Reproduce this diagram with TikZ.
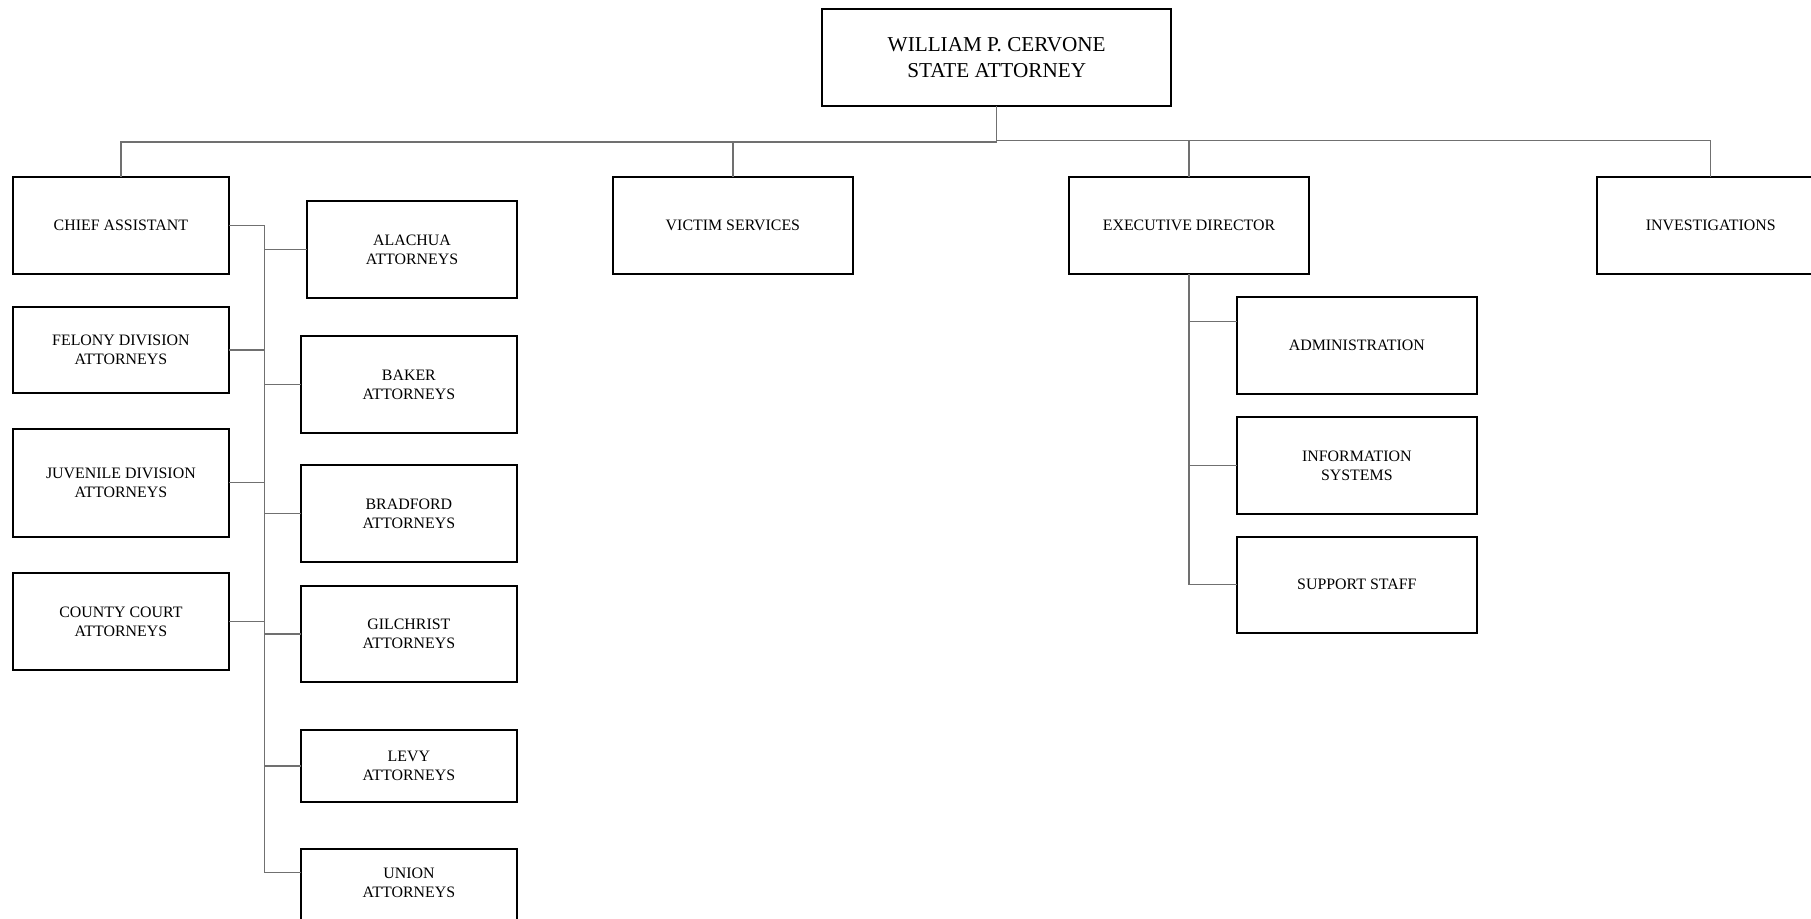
\documentclass[tikz,border=0pt]{standalone}
\usepackage{fontspec}
\setmainfont{Liberation Serif}
\definecolor{linkgray}{RGB}{112,112,112}
\begin{document}
\begin{tikzpicture}[x={(0.5pt,0)}, y={(0,-0.5pt)},
  unit/.style={draw=black, line width=1pt, rectangle, inner sep=0pt, outer sep=0pt,
    align=center, font=\fontsize{7.95pt}{9.5pt}\selectfont},
  headbox/.style={unit, font=\fontsize{10.6pt}{12.85pt}\selectfont},
  link/.style={draw=linkgray, line width=0.6pt}]
\useasboundingbox (0,0) rectangle (1811,919);
\clip (0,0) rectangle (1811,919);

% head of office
\node[headbox, minimum width=174.3pt, minimum height=48.65pt] (will) at (996.7,57.35)
  {WILLIAM P. CERVONE\\STATE ATTORNEY};

% first level
\node[unit, minimum width=108.3pt, minimum height=48.8pt] (chief) at (120.9,225.5) {CHIEF ASSISTANT};
\node[unit, minimum width=120.3pt, minimum height=48.8pt] (victim) at (732.9,225.5) {VICTIM SERVICES};
\node[unit, minimum width=120.25pt, minimum height=48.8pt] (exec) at (1189,225.5) {EXECUTIVE DIRECTOR};
\node[unit, minimum width=114pt, minimum height=48.5pt] (invest) at (1710.7,225.2) {INVESTIGATIONS};

% attorney divisions
\node[unit, minimum width=108.3pt, minimum height=42.7pt] (felony) at (120.9,350) {FELONY DIVISION\\ATTORNEYS};
\node[unit, minimum width=108.3pt, minimum height=54.15pt] (juvenile) at (120.9,482.85) {JUVENILE DIVISION\\ATTORNEYS};
\node[unit, minimum width=108.3pt, minimum height=48.65pt] (county) at (120.9,621.35) {COUNTY COURT\\ATTORNEYS};

% county offices
\node[unit, minimum width=105.05pt, minimum height=48.65pt] (alachua) at (412,249.35) {ALACHUA\\ATTORNEYS};
\node[unit, minimum width=108.1pt, minimum height=48.65pt] (baker) at (408.9,384.65) {BAKER\\ATTORNEYS};
\node[unit, minimum width=108.1pt, minimum height=48.8pt] (bradford) at (408.9,513.5) {BRADFORD\\ATTORNEYS};
\node[unit, minimum width=108.1pt, minimum height=48pt] (gilchrist) at (408.9,634) {GILCHRIST\\ATTORNEYS};
\node[unit, minimum width=108.1pt, minimum height=36pt] (levy) at (408.9,766) {LEVY\\ATTORNEYS};
% the last box runs past the bottom edge; its text sits in the visible part
\node[unit, minimum width=108.1pt, minimum height=48pt] (union) at (408.9,896.7)
  {\raisebox{4.35pt}[0pt][0pt]{\begin{tabular}{@{}c@{}}UNION\\ATTORNEYS\end{tabular}}};

% executive director's staff
\node[unit, minimum width=120.15pt, minimum height=48.8pt] (admin) at (1356.85,345.5) {ADMINISTRATION};
\node[unit, minimum width=120.15pt, minimum height=48.8pt] (info) at (1356.85,465.5) {INFORMATION\\SYSTEMS};
\node[unit, minimum width=120.15pt, minimum height=48pt] (support) at (1356.85,584.7) {SUPPORT STAFF};

% top-level bus
\coordinate (busL) at (996.7,142);
\coordinate (busR) at (996.7,140.7);
\draw[link] (will.south) -- (busL) -| (chief.north);
\draw[link] (busL) -| (victim.north);
\draw[link] (will.south) -- (busR) -| (invest.north);
\draw[link] (busR) -| (exec.north);

% chief assistant's bus
\coordinate (lb) at (264.6,0);
\coordinate (ujoin) at (264.6,872.7);
\draw[link] (chief.east) -- (chief.east -| lb) -- (ujoin);
\draw[link] (felony.east) -- (felony.east -| lb);
\draw[link] (juvenile.east) -- (juvenile.east -| lb);
\draw[link] (county.east) -- (county.east -| lb);
\draw[link] (alachua.west -| lb) -- (alachua.west);
\draw[link] (baker.west -| lb) -- (baker.west);
\draw[link] (bradford.west -| lb) -- (bradford.west);
\draw[link] (gilchrist.west -| lb) -- (gilchrist.west);
\draw[link] (levy.west -| lb) -- (levy.west);
\draw[link] (ujoin) -- (ujoin -| union.west);

% executive director's bus
\coordinate (ajoin) at (1189,321.7);
\draw[link] (exec.south) -- (exec.south |- support.west) -- (support.west);
\draw[link] (ajoin) -- (ajoin -| admin.west);
\draw[link] (info.west -| exec.south) -- (info.west);
\end{tikzpicture}
\end{document}
